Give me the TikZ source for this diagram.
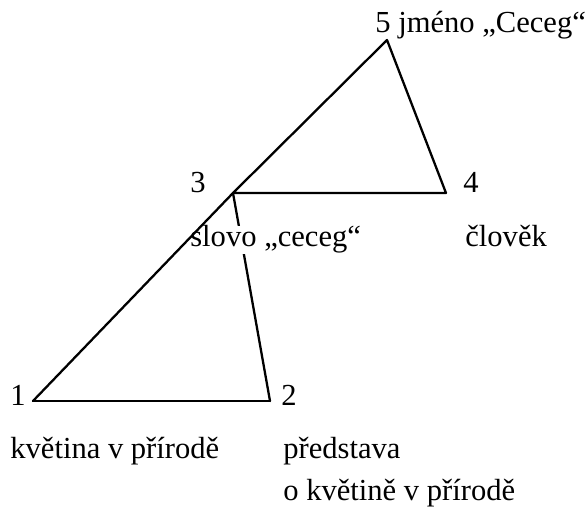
\documentclass[tikz,border=0pt]{standalone}
\usepackage{fontspec}
\setmainfont{Liberation Serif}
\tikzset{
	edge/.style={line width=1.3pt, line cap=round, line join=round},
	lbl/.style={anchor=base west, inner sep=0pt, font=\fontsize{17.4}{20}\selectfont},
}

\begin{document}
\begin{tikzpicture}
	\useasboundingbox (0,0) rectangle (11.72,10.36);
	% corner points
	\coordinate (p1) at (0.66,2.34);
	\coordinate (p2) at (5.40,2.34);
	\coordinate (p3) at (4.66,6.50);
	\coordinate (p4) at (8.92,6.50);
	\coordinate (p5) at (7.74,9.56);
	% numbers and texts
	\node[lbl] (n1) at (0.20,2.26) {1};
	\node[lbl] (n2) at (5.62,2.26) {2};
	\node[lbl] (n3) at (3.80,6.50) {3};
	\node[lbl] (n4) at (9.26,6.50) {4};
	\node[lbl] (n5) at (7.50,9.70) {5 jméno „Ceceg“};
	\node[lbl] (clovek) at (9.30,5.42) {člověk};
	\node[lbl] (kvetina) at (0.20,1.20) {květina v přírodě};
	\node[lbl] (predstava) at (5.66,1.20) {představa};
	\node[lbl] (okvetine) at (5.66,0.36) {o květině v přírodě};
	% edges
	\draw[edge] (p3) -- (p2);
	\node[lbl, fill=white] (slovo) at (3.80,5.42) {slovo „ceceg“};
	\draw[edge] (p1) -- (p2);
	\draw[edge] (p1) -- (p3) -- (p5) -- (p4) -- (p3);
\end{tikzpicture}
\end{document}
